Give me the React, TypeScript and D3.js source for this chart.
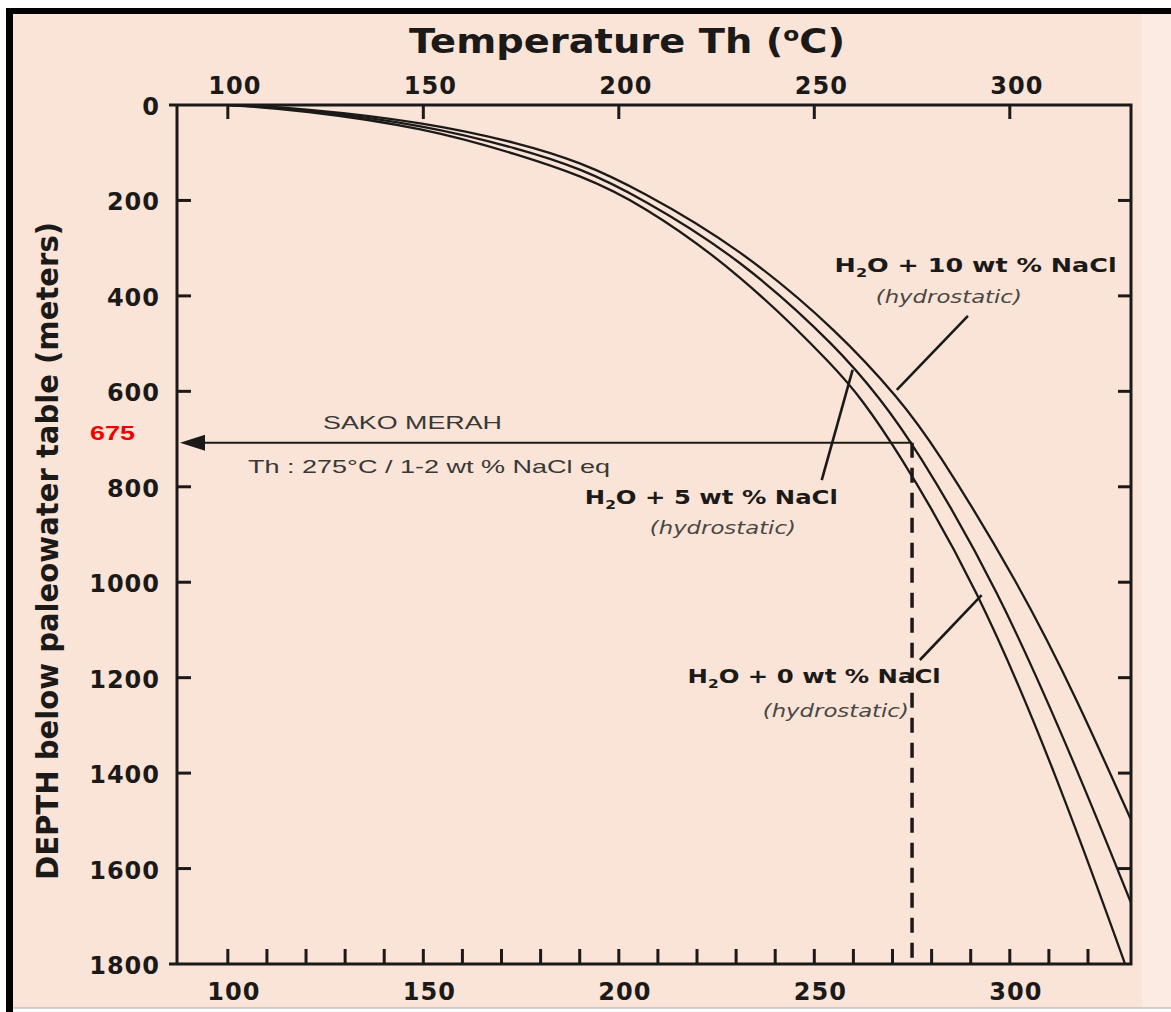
import { useRef, useEffect } from "react";
import * as d3 from "d3";

// boiling point - depth curves (depth in m, Th in °C)
const depth10 = [0, 6, 36, 80, 119, 178, 300, 478, 618, 708, 1006, 1249, 1498];
const temp10 = [101.0, 118.4, 150.6, 174.7, 190.0, 205.4, 231.0, 256.6, 271.9, 280.3, 302.6, 317.4, 331.0];

const depth5 = [0, 8, 42, 92, 132, 193, 321, 513, 618, 708, 1006, 1410, 1672];
const temp5 = [100.5, 118.4, 150.6, 174.7, 190.0, 205.4, 231.0, 256.6, 267.0, 275.2, 296.7, 318.2, 331.0];

const depth0 = [0, 10, 48, 105, 147, 205, 352, 560, 618, 708, 1006, 1410, 1798];
const temp0 = [100, 118.4, 150.6, 174.7, 190.0, 205.4, 231.0, 256.6, 262.1, 270.1, 291.6, 312.3, 329.4];

// axis ticks
const tempLabels = [100, 150, 200, 250, 300];
const tempMinor = [100, 110, 120, 130, 140, 150, 160, 170, 180, 190, 200, 210, 220, 230, 240, 250, 260, 270, 280, 290, 300, 310, 320];
const depthLabels = [0, 200, 400, 600, 800, 1000, 1200, 1400, 1600, 1800];
const depthInner = [200, 400, 600, 800, 1000, 1200, 1400, 1600];

// Sako Merah inclusion result
const sakoTemp = 275;
const sakoDepth = 708;
const sakoLabel = "675";

// curve labels (in data units): label start, "(hydrostatic)" centre, leader ends
const curveNames = ["10", "5", "0"];
const labelT = [255.2, 191.3, 217.6];
const labelD = [350, 836, 1211];
const hydroT = [284.4, 226.6, 255.5];
const hydroD = [415, 899, 1282];
const leaderT0 = [289.3, 251.9, 277.0];
const leaderD0 = [442, 786, 1163];
const leaderT1 = [271.1, 259.8, 292.8];
const leaderD1 = [597, 555, 1027];

const W = 1171;
const H = 1012;
const bg = "#f9e4d7";
const ink = "#1c1a19";

const App = () => {
    const ref = useRef<HTMLDivElement>(null);

    useEffect(() => {
        const svg = d3.create("svg")
            .attr("width", W)
            .attr("height", H)
            .style("position", "absolute")
            .style("left", "0px")
            .style("top", "0px")
            .style("background", "#fff");

        const x = d3.scaleLinear().domain([87, 331]).range([177, 1131]);
        const y = d3.scaleLinear().domain([0, 1800]).range([105, 964]);
        const [x0, x1] = x.range();
        const [y0, y1] = y.range();

        // ---------------- frame and background
        svg.append("rect").attr("x", 6).attr("y", 8).attr("width", W - 6).attr("height", 1000).attr("fill", bg);
        svg.append("rect").attr("x", 1142).attr("y", 14).attr("width", W - 1142).attr("height", 994).attr("fill", "#fbebe2");
        svg.append("rect").attr("x", 6).attr("y", 8).attr("width", 7).attr("height", H - 8).attr("fill", "#000");
        svg.append("rect").attr("x", 6).attr("y", 8).attr("width", W - 6).attr("height", 6).attr("fill", "#000");
        svg.append("line").attr("x1", 13).attr("x2", W).attr("y1", 1008).attr("y2", 1008)
            .attr("stroke", "#c9c2bd").attr("stroke-width", 1.5);

        // ---------------- titles
        const title = svg.append("text")
            .attr("x", 627).attr("y", 53)
            .attr("text-anchor", "middle")
            .attr("font-family", "DejaVu Sans, Verdana, sans-serif")
            .attr("font-weight", "bold")
            .attr("font-size", 33)
            .attr("fill", ink)
            .attr("textLength", 436)
            .attr("lengthAdjust", "spacingAndGlyphs");
        title.append("tspan").text("Temperature Th (");
        title.append("tspan").attr("font-size", 20).attr("dy", -12).text("o");
        title.append("tspan").attr("dy", 12).text("C)");

        svg.append("text")
            .attr("transform", `translate(58, 551) rotate(-90)`)
            .attr("text-anchor", "middle")
            .attr("font-family", "DejaVu Sans, Verdana, sans-serif")
            .attr("font-weight", "bold")
            .attr("font-size", 31)
            .attr("fill", ink)
            .attr("textLength", 658)
            .attr("lengthAdjust", "spacingAndGlyphs")
            .text("DEPTH below paleowater table (meters)");

        // ---------------- axes
        const axes = svg.append("g").attr("stroke", ink).attr("stroke-width", 3).attr("fill", "none");
        axes.append("path").attr("d", `M${x0 - 8},${y0}H${x1}V${y1}H${x0 - 8}M${x0},${y0}V${y1}`);

        const tickG = svg.append("g").attr("stroke", ink).attr("stroke-width", 3);
        tickG.selectAll("line.top").data(tempLabels).join("line")
            .attr("class", "top")
            .attr("x1", d => x(d)).attr("x2", d => x(d))
            .attr("y1", y0).attr("y2", y0 + 14);
        tickG.selectAll("line.bottom").data(tempMinor).join("line")
            .attr("class", "bottom")
            .attr("x1", d => x(d)).attr("x2", d => x(d))
            .attr("y1", y1).attr("y2", y1 - 15);
        tickG.selectAll("line.left").data(depthInner).join("line")
            .attr("class", "left")
            .attr("x1", x0).attr("x2", x0 + 14)
            .attr("y1", d => y(d)).attr("y2", d => y(d));
        tickG.selectAll("line.right").data(depthInner).join("line")
            .attr("class", "right")
            .attr("x1", x1).attr("x2", x1 - 13)
            .attr("y1", d => y(d)).attr("y2", d => y(d));

        const labelFont = (sel: any) => sel
            .attr("font-family", "DejaVu Sans, Verdana, sans-serif")
            .attr("font-weight", "bold")
            .attr("font-size", 24)
            .attr("letter-spacing", 1)
            .attr("fill", ink);

        svg.append("g").call(labelFont).selectAll("text").data(tempLabels).join("text")
            .attr("x", d => x(d) + 7).attr("y", 94)
            .attr("text-anchor", "middle")
            .text(d => d);
        svg.append("g").call(labelFont).selectAll("text").data(tempLabels).join("text")
            .attr("x", d => x(d) + 6).attr("y", 1000)
            .attr("text-anchor", "middle")
            .text(d => d);
        svg.append("g").call(labelFont).selectAll("text").data(depthLabels).join("text")
            .attr("x", 160).attr("y", d => y(d) + 10)
            .attr("text-anchor", "end")
            .text(d => d);

        // ---------------- curves
        const clip = svg.append("clipPath").attr("id", "plot-clip");
        clip.append("rect").attr("x", x0).attr("y", y0).attr("width", x1 - x0).attr("height", y1 - y0);

        const curves = [
            d3.zip(temp10, depth10),
            d3.zip(temp5, depth5),
            d3.zip(temp0, depth0),
        ];
        const line = d3.line<number[]>()
            .x(d => x(d[0]))
            .y(d => y(d[1]))
            .curve(d3.curveBasis);

        svg.append("g").attr("clip-path", "url(#plot-clip)")
            .selectAll("path").data(curves).join("path")
            .attr("d", line)
            .attr("fill", "none")
            .attr("stroke", ink)
            .attr("stroke-width", 2.3);

        // ---------------- Sako Merah arrow and dashed line
        svg.append("line")
            .attr("x1", x(sakoTemp)).attr("x2", x0 + 20)
            .attr("y1", y(sakoDepth)).attr("y2", y(sakoDepth))
            .attr("stroke", ink).attr("stroke-width", 2);
        svg.append("path")
            .attr("d", `M${x0 + 3},${y(sakoDepth)}L${x0 + 28},${y(sakoDepth) - 8}L${x0 + 28},${y(sakoDepth) + 8}Z`)
            .attr("fill", ink);
        svg.append("line")
            .attr("x1", x(sakoTemp)).attr("x2", x(sakoTemp))
            .attr("y1", y(sakoDepth)).attr("y2", y1)
            .attr("stroke", ink).attr("stroke-width", 3.5)
            .attr("stroke-dasharray", "15 10");

        const noteFont = (sel: any) => sel
            .attr("font-family", "Liberation Sans, Arial, sans-serif")
            .attr("font-size", 19)
            .attr("lengthAdjust", "spacingAndGlyphs")
            .attr("fill", "#3a3836");
        svg.append("text").call(noteFont)
            .attr("x", 323).attr("y", y(sakoDepth) - 14)
            .attr("textLength", 179)
            .text("SAKO MERAH");
        svg.append("text").call(noteFont)
            .attr("x", 248).attr("y", y(sakoDepth) + 30)
            .attr("textLength", 362)
            .text("Th : 275°C / 1-2 wt % NaCl eq");
        svg.append("text")
            .attr("x", 90).attr("y", y(sakoDepth) - 3)
            .attr("font-family", "Liberation Sans, Arial, sans-serif")
            .attr("font-weight", "bold")
            .attr("font-size", 20)
            .attr("textLength", 45)
            .attr("lengthAdjust", "spacingAndGlyphs")
            .attr("fill", "#f00000")
            .text(sakoLabel);

        // ---------------- curve labels and leaders
        const labels = svg.append("g");
        curveNames.forEach((name, i) => {
            labels.append("line")
                .attr("x1", x(leaderT0[i])).attr("y1", y(leaderD0[i]))
                .attr("x2", x(leaderT1[i])).attr("y2", y(leaderD1[i]))
                .attr("stroke", ink).attr("stroke-width", 2.6);

            const t = labels.append("text")
                .attr("x", x(labelT[i])).attr("y", y(labelD[i]))
                .attr("font-family", "DejaVu Sans, Verdana, sans-serif")
                .attr("font-weight", "bold")
                .attr("font-size", 19)
                .attr("fill", ink)
                .attr("textLength", name === "10" ? 282 : 253)
                .attr("lengthAdjust", "spacingAndGlyphs");
            t.append("tspan").text("H");
            t.append("tspan").attr("font-size", 12).attr("dy", 5).text("2");
            t.append("tspan").attr("dy", -5).text(`O + ${name} wt % NaCl`);

            labels.append("text")
                .attr("x", x(hydroT[i])).attr("y", y(hydroD[i]))
                .attr("text-anchor", "middle")
                .attr("font-family", "DejaVu Sans, Verdana, sans-serif")
                .attr("font-style", "italic")
                .attr("font-size", 17)
                .attr("fill", "#4a4644")
                .attr("textLength", 146)
                .attr("lengthAdjust", "spacingAndGlyphs")
                .text("(hydrostatic)");
        });

        ref.current?.appendChild(svg.node()!);
        return () => { svg.node()?.remove(); };
    }, []);

    return <div ref={ref}></div>;
};

export default App;
